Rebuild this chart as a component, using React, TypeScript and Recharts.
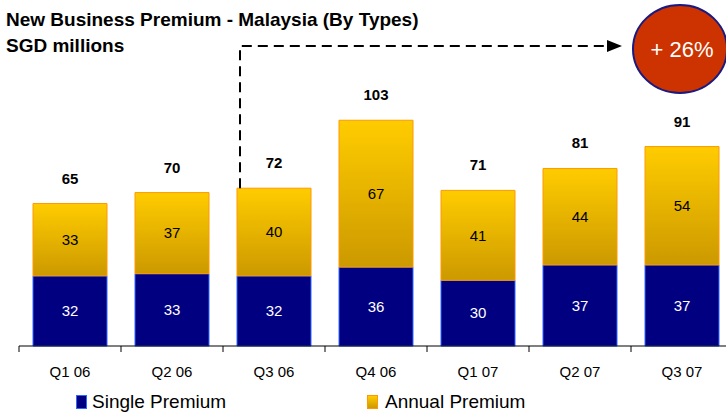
import { BarChart, Bar, XAxis, YAxis, LabelList } from 'recharts';

const quarters = ['Q1 06', 'Q2 06', 'Q3 06', 'Q4 06', 'Q1 07', 'Q2 07', 'Q3 07'];
const singlePremium = [32, 33, 32, 36, 30, 37, 37];
const annualPremium = [33, 37, 40, 67, 41, 44, 54];
const totals = [65, 70, 72, 103, 71, 81, 91];
const seriesNames = ['Single Premium', 'Annual Premium'];
const growthLabel = '+ 26%';
const growthFrom = 'Q3 06';

const FONT = 'Arial, "Liberation Sans", sans-serif';

const chartData = quarters.map((q, i) => ({
  quarter: q,
  single: singlePremium[i],
  annual: annualPremium[i],
  total: totals[i],
}));

function CategoryTick(props: any) {
  const { x, y, payload } = props;
  const half = payload.offset ?? 51;
  return (
    <g>
      <line x1={x - half} y1={y} x2={x - half} y2={y + 6} stroke="#000" strokeWidth={1} />
      <text x={x} y={y + 31} textAnchor="middle" fontSize={15} fontFamily={FONT} fill="#000">
        {payload.value}
      </text>
    </g>
  );
}

function TotalLabel(props: any) {
  const { x, y, width, value, index } = props;
  const fromHere = chartData[index]?.quarter === growthFrom;
  return (
    <g>
      <text
        x={x + width / 2}
        y={y - 20}
        textAnchor="middle"
        fontSize={15}
        fontWeight="bold"
        fontFamily={FONT}
        fill="#000"
      >
        {value}
      </text>
      {fromHere && (
        <g>
          <path
            d={`M${x + 3},${y} L${x + 3},46 L607,46`}
            fill="none"
            stroke="#000"
            strokeWidth={2}
            strokeDasharray="10 6"
          />
          <polygon points="607,40 622,46 607,52" fill="#000" />
        </g>
      )}
    </g>
  );
}

export default function App() {
  return (
    <div
      style={{
        position: 'absolute',
        left: 0,
        top: 0,
        width: 726,
        height: 414,
        overflow: 'hidden',
        background: '#fff',
        fontFamily: FONT,
      }}
    >
      <div style={{ position: 'absolute', left: 6, top: 7, fontSize: 19, fontWeight: 'bold', lineHeight: '26px' }}>
        New Business Premium - Malaysia (By Types)
        <br />
        SGD millions
      </div>

      <BarChart
        width={733}
        height={414}
        data={chartData}
        margin={{ top: 83, right: 0, bottom: 0, left: 19 }}
        barCategoryGap={14}
      >
        <defs>
          <linearGradient id="annualFill" x1="0" y1="0" x2="0" y2="1">
            <stop offset="0%" stopColor="#ffcc00" />
            <stop offset="100%" stopColor="#cc9900" />
          </linearGradient>
        </defs>
        <XAxis
          dataKey="quarter"
          height={68}
          tickLine={false}
          tickSize={0}
          tickMargin={0}
          axisLine={{ stroke: '#000', strokeWidth: 1 }}
          tick={<CategoryTick />}
          interval={0}
        />
        <YAxis hide domain={[0, 120]} />
        <Bar dataKey="single" stackId="a" fill="#000080" stroke="#3366ff" strokeWidth={1} isAnimationActive={false}>
          <LabelList dataKey="single" position="center" fill="#fff" fontSize={15} fontFamily={FONT} />
        </Bar>
        <Bar dataKey="annual" stackId="a" fill="url(#annualFill)" stroke="#ff9900" strokeWidth={1} isAnimationActive={false}>
          <LabelList dataKey="annual" position="center" fill="#000" fontSize={15} fontFamily={FONT} />
          <LabelList dataKey="total" content={<TotalLabel />} />
        </Bar>
      </BarChart>

      <svg width={726} height={414} style={{ position: 'absolute', left: 0, top: 0, pointerEvents: 'none' }}>
        <ellipse cx={680} cy={49} rx={47} ry={44} fill="#cc3300" stroke="#1a1a80" strokeWidth={2} />
        <text x={682} y={57} textAnchor="middle" fontSize={22} fontFamily={FONT} fill="#fff">
          {growthLabel}
        </text>
      </svg>

      <div style={{ position: 'absolute', left: 76, top: 391, display: 'flex', alignItems: 'center', fontSize: 19 }}>
        <span style={{ width: 9, height: 12, background: '#000080', border: '1px solid #3366ff', marginRight: 5 }} />
        <span>{seriesNames[0]}</span>
      </div>
      <div style={{ position: 'absolute', left: 367, top: 391, display: 'flex', alignItems: 'center', fontSize: 19 }}>
        <span
          style={{
            width: 9,
            height: 12,
            background: 'linear-gradient(#ffcc00, #cc9900)',
            border: '1px solid #ff9900',
            marginRight: 7,
          }}
        />
        <span>{seriesNames[1]}</span>
      </div>
    </div>
  );
}
